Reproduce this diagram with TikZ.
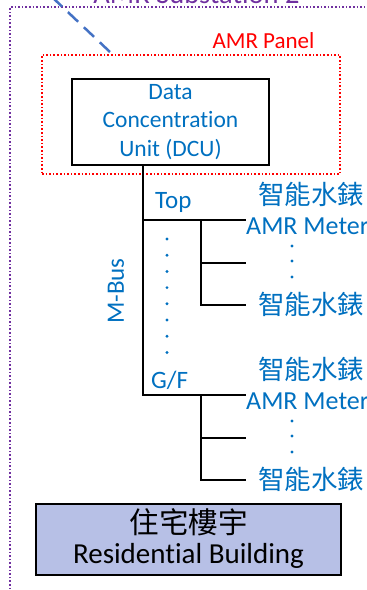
\documentclass[tikz,border=0pt]{standalone}
\usepackage{fontspec}
\setmainfont{Carlito}[Ligatures=NoCommon]
\newfontfamily\cjk{Noto Sans CJK TC}

\definecolor{amrblue}{RGB}{0,112,192}
\definecolor{amrpurple}{RGB}{112,48,160}
\definecolor{linkblue}{RGB}{68,114,196}
\definecolor{bldgfill}{RGB}{183,192,230}

\tikzset{
  meterzh/.style={text=amrblue, inner sep=0pt, anchor=west, font=\cjk\fontsize{26.5}{30}\selectfont},
  meteren/.style={text=amrblue, inner sep=0pt, anchor=base west, font=\fontsize{26}{30}\selectfont},
  buslbl/.style={text=amrblue, inner sep=0pt, font=\fontsize{25}{30}\selectfont},
  wire/.style={line width=2.5, line cap=rect},
}

\begin{document}
\begin{tikzpicture}[x=1pt,y=1pt,yscale=-1,xscale=1]
	\useasboundingbox (0,0) rectangle (367,590);
	% substation frame (cut by the page)
	\draw [amrpurple, dotted, line width=1.6] (10,600) -- (10,7) -- (380,7);
	\node (subst) [text=amrpurple, anchor=base, inner sep=0pt, font=\fontsize{28.5}{32}\selectfont] at (196.5,3.5) {AMR Substation 2};
	% AMR panel
	\node (panel) [draw=red, dotted, line width=1.6, minimum width=298, minimum height=119, inner sep=0pt] at (191,114.5) {};
	\node (panellbl) [text=red, anchor=base, inner sep=0pt, font=\fontsize{23}{28}\selectfont] at (263.5,48) {AMR Panel};
	\coordinate (uplink) at (52,-3);
	\coordinate (panellink) at (110,52);
	\draw [linkblue, line width=2.5, dash pattern=on 14 off 8] (panellink) -- (uplink);
	% concentrator
	\node (dcu) [draw, line width=2.2, minimum width=197, minimum height=86, align=center, text=amrblue, font=\fontsize{23.5}{28.5}\selectfont] at (170.5,122) {Data\\Concentration\\Unit (DCU)};
	% M-Bus riser
	\coordinate (toptap) at (143,220);
	\coordinate (gftap) at (143,395);
	\draw [wire] (dcu.south -| toptap) -- (gftap);
	\node (top) [buslbl, anchor=base west] at (155,208) {Top};
	\node (gf) [buslbl, anchor=base west] at (151,388) {G/F};
	\node (mbus) [buslbl, rotate=90] at (116,291) {M-Bus};
	\foreach \k in {0,...,7}
		\fill [amrblue] (167,239+16.2*\k) circle (1.6);
	% meters on each floor
	\foreach \fl/\y in {top/220,gf/395} {
		\coordinate (\fl end) at (245,\y);
		\coordinate (\fl split) at (201,\y);
		\coordinate (\fl mid) at (245,\y+43);
		\coordinate (\fl low) at (245,\y+85);
		\draw [wire] (\fl tap) -- (\fl end);
		\draw [wire] (\fl split) |- (\fl low);
		\draw [wire] (\fl split |- \fl mid) -- (\fl mid);
		\node (\fl zh) [meterzh] at (258,\y-26) {智能水錶};
		\node (\fl en) [meteren] at (246,\y+14) {AMR Meter};
		\node (\fl zhlow) [meterzh] at (258,\y+84) {智能水錶};
		\foreach \d in {26,41,57}
			\fill [amrblue] (292,\y+\d) circle (1.6);
	}
	% building
	\node (bldg) [draw, line width=2.2, fill=bldgfill, minimum width=305, minimum height=71, inner sep=0pt] at (188.5,539.5) {};
	\node (bldgzh) [inner sep=0pt, font=\cjk\fontsize{29.5}{34}\selectfont] at (188.5,522.5) {住宅樓宇};
	\node (bldgen) [inner sep=0pt, anchor=base, font=\fontsize{29}{34}\selectfont] at (188.5,563) {Residential Building};
\end{tikzpicture}
\end{document}
